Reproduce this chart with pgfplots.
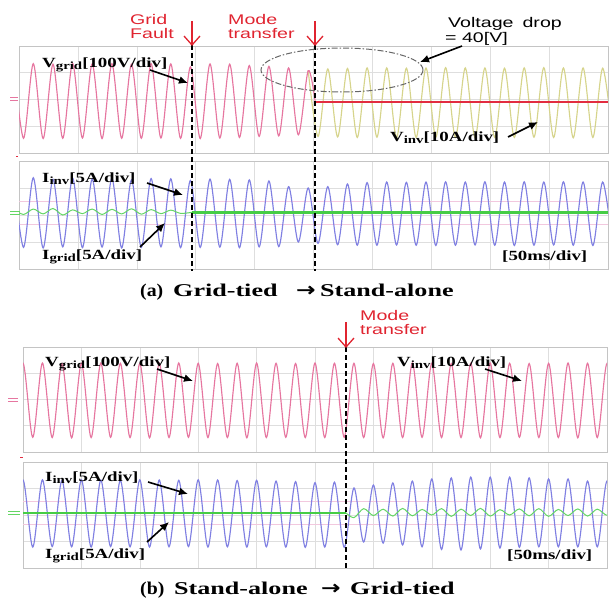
\documentclass[border=0pt]{standalone}
\usepackage{pgfplots}
\pgfplotsset{compat=1.18}
\usepackage{pgfplotstable}
\usetikzlibrary{arrows.meta}
\usepackage{fontspec}
\setmainfont{Liberation Serif}
\newfontfamily\labfont[FakeStretch=1.35]{Liberation Serif}
\newfontfamily\capfont[FakeStretch=1.45]{Liberation Serif}
\newfontfamily\capnarrow[FakeStretch=1.1]{Liberation Serif}
\newfontfamily\notefont[FakeStretch=1.4]{Liberation Sans}
\newfontfamily\symfont[FakeStretch=1.2, FakeBold=2.5]{DejaVu Sans}

\definecolor{vgridc}{RGB}{230,118,160}
\definecolor{vinvc}{RGB}{214,212,140}
\definecolor{iinvc}{RGB}{128,128,226}
\definecolor{igridc}{RGB}{100,214,100}
\definecolor{igridflat}{RGB}{70,205,70}
\definecolor{zeroc}{RGB}{226,44,64}
\definecolor{notec}{RGB}{224,36,48}
\definecolor{gridc}{RGB}{222,222,222}
\definecolor{cursorc}{RGB}{242,200,222}
\definecolor{framec}{RGB}{196,196,196}

% one oscilloscope channel: 10 x 4 divisions
\pgfplotsset{channel/.style={
  scale only axis, anchor=north west,
  xmin=0, xmax=10, ymin=-2, ymax=2,
  xtick={1,...,9}, ytick={-1,0,1},
  xticklabels={}, yticklabels={},
  tick style={draw=none},
  grid=major, major grid style={gridc, line width=0.6pt},
  axis line style={framec, line width=0.8pt},
  every axis plot/.append style={line width=1.15pt, smooth, no marks}
}}

% (a) grid-tied -> stand-alone : extremes of each half cycle (t in div)
\pgfplotstableread{
t       vg     vi     ii     ig
-0.090  1.33   nan    1.36   0.20
0.077  -1.45   nan   -1.20   0.02
0.243   1.34   nan    1.38   0.22
0.410  -1.46   nan   -1.22   0.04
0.577   1.32   nan    1.32   0.24
0.743  -1.45   nan   -1.18   0.00
0.910   1.35   nan    1.37   0.19
1.077  -1.44   nan   -1.21   0.05
1.243   1.33   nan    1.33   0.22
1.410  -1.46   nan   -1.19   0.02
1.577   1.34   nan    1.36   0.21
1.743  -1.45   nan   -1.22   0.04
1.910   1.32   nan    1.30   0.23
2.077  -1.45   nan   -1.20   0.03
2.243   1.34   nan    1.35   0.20
2.410  -1.44   nan   -1.18   0.05
2.577   1.33   nan    1.34   0.18
2.743  -1.45   nan   -1.21   0.06
2.910   1.22   nan    1.28   nan
2.940   nan    nan    nan    0.10
3.077  -1.46   nan   -1.20   nan
3.243   1.33   nan    1.33   nan
3.410  -1.44   nan   -1.19   nan
3.577   1.32   nan    1.32   nan
3.743  -1.42   nan   -1.21   nan
3.910   1.27   nan    1.30   nan
4.077  -1.38   nan   -1.18   nan
4.243   1.24   nan    1.26   nan
4.410  -1.36   nan   -1.17   nan
4.577   1.18   nan    1.05   nan
4.743  -1.32   nan   -1.00   nan
4.910   1.08   1.08   1.00   nan
5.030  -0.10   nan    nan    nan
5.077   nan   -1.38  -1.05   nan
5.243   nan    1.14   1.05   nan
5.410   nan   -1.40  -1.10   nan
5.577   nan    1.16   1.15   nan
5.743   nan   -1.42  -1.12   nan
5.910   nan    1.18   1.20   nan
6.077   nan   -1.41  -1.12   nan
6.243   nan    1.18   1.22   nan
6.410   nan   -1.43  -1.11   nan
6.577   nan    1.17   1.21   nan
6.743   nan   -1.42  -1.12   nan
6.910   nan    1.18   1.22   nan
7.077   nan   -1.41  -1.13   nan
7.243   nan    1.19   1.23   nan
7.410   nan   -1.42  -1.12   nan
7.577   nan    1.18   1.22   nan
7.743   nan   -1.43  -1.11   nan
7.910   nan    1.18   1.23   nan
8.077   nan   -1.42  -1.12   nan
8.243   nan    1.17   1.22   nan
8.410   nan   -1.42  -1.13   nan
8.577   nan    1.18   1.23   nan
8.743   nan   -1.41  -1.12   nan
8.910   nan    1.19   1.22   nan
9.077   nan   -1.42  -1.11   nan
9.243   nan    1.18   1.23   nan
9.410   nan   -1.43  -1.12   nan
9.577   nan    1.18   1.22   nan
9.743   nan   -1.42  -1.13   nan
9.910   nan    1.17   1.22   nan
10.077  nan   -1.42  -1.12   nan
}\tabA

% (b) stand-alone -> grid-tied
\pgfplotstableread{
t       vg     ii     ig
-0.167 -1.45  -1.20   nan
0.000   1.38   1.32   nan
0.167  -1.44  -1.21   nan
0.333   1.39   1.33   nan
0.500  -1.45  -1.19   nan
0.667   1.37   1.31   nan
0.833  -1.46  -1.20   nan
1.000   1.38   1.33   nan
1.167  -1.45  -1.21   nan
1.333   1.39   1.32   nan
1.500  -1.44  -1.19   nan
1.667   1.38   1.31   nan
1.833  -1.45  -1.20   nan
2.000   1.37   1.33   nan
2.167  -1.46  -1.21   nan
2.333   1.38   1.32   nan
2.500  -1.45  -1.20   nan
2.667   1.39   1.31   nan
2.833  -1.44  -1.19   nan
3.000   1.38   1.33   nan
3.167  -1.45  -1.21   nan
3.333   1.37   1.32   nan
3.500  -1.45  -1.20   nan
3.667   1.38   1.30   nan
3.833  -1.46  -1.21   nan
4.000   1.39   1.31   nan
4.167  -1.45  -1.20   nan
4.333   1.38   1.28   nan
4.500  -1.44  -1.21   nan
4.667   1.37   1.26   nan
4.833  -1.45  -1.22   nan
5.000   1.39   1.22   nan
5.167  -1.45  -1.21   nan
5.333   1.38   1.24   nan
5.500  -1.44  -1.22   nan
5.530   nan    nan    0.08
5.667   1.38   1.02  -0.10
5.833  -1.45  -1.02   0.24
6.000   1.37   1.13  -0.02
6.167  -1.46  -1.06   0.22
6.333   1.38   1.21  -0.04
6.500  -1.45  -1.13   0.25
6.667   1.39   1.28  -0.03
6.833  -1.44  -1.20   0.21
7.000   1.38   1.36   0.00
7.167  -1.45  -1.30   0.24
7.333   1.37   1.40  -0.05
7.500  -1.45  -1.32   0.22
7.667   1.38   1.43  -0.02
7.833  -1.46  -1.28   0.25
8.000   1.39   1.43  -0.04
8.167  -1.45  -1.25   0.20
8.333   1.38   1.43   0.00
8.500  -1.44  -1.22   0.23
8.667   1.37   1.40  -0.03
8.833  -1.45  -1.20   0.24
9.000   1.38   1.36  -0.05
9.167  -1.45  -1.20   0.21
9.333   1.39   1.36  -0.02
9.500  -1.46  -1.20   0.23
9.667   1.38   1.28  -0.04
9.833  -1.45  -1.20   0.22
10.000  1.37   1.28  -0.01
10.167 -1.45  -1.20   0.20
}\tabB

\newcommand\sub[1]{\raisebox{-2.5pt}{\fontsize{11}{11}\selectfont #1}}
\newcommand\lbl{\labfont\bfseries\fontsize{14}{14}\selectfont}
\newcommand\notetxt{\notefont\fontsize{14}{14}\selectfont}
\newcommand\capt{\capfont\bfseries\fontsize{18}{18}\selectfont}
\newcommand\captag{\capnarrow\bfseries\fontsize{18}{18}\selectfont}
\newcommand\caparrow{\symfont\fontsize{19}{19}\selectfont →}

\begin{document}
\begin{tikzpicture}[x=1pt,y=1pt]
\path[use as bounding box] (0,0) rectangle (615,-602);

% ---------------- (a) ----------------
\begin{axis}[channel, at={(19pt,-46pt)}, width=589pt, height=107pt]
  \addplot[vinvc] table[x=t, y=vi] {\tabA};
  \addplot[vgridc] table[x=t, y=vg] {\tabA};
  \addplot[zeroc, line width=1.4pt, sharp plot] coordinates {(5.03,-0.10) (10,-0.10)};
\end{axis}
\begin{axis}[channel, at={(19pt,-161pt)}, width=589pt, height=108pt]
  \addplot[cursorc, line width=0.7pt, sharp plot] coordinates {(0,0.5) (10,0.5)};
  \addplot[cursorc, line width=0.7pt, sharp plot] coordinates {(0,-0.35) (10,-0.35)};
  \addplot[iinvc] table[x=t, y=ii] {\tabA};
  \addplot[igridc, line width=1pt] table[x=t, y=ig] {\tabA};
  \addplot[igridflat, line width=2.4pt, sharp plot] coordinates {(2.94,0.10) (10,0.10)};
\end{axis}

% channel markers
\draw[vgridc, line width=0.9pt] (10,-97) -- (18,-97) (10,-100) -- (18,-100);
\draw[igridc, line width=0.9pt] (10,-211) -- (20,-211) (10,-214) -- (20,-214);
\draw[zeroc, line width=0.8pt] (16,-156) -- (18,-156);

% event lines
\draw[line width=2pt, dash pattern=on 5pt off 3pt] (192,-45) -- (192,-271);
\draw[line width=2pt, dash pattern=on 5pt off 3pt] (315,-45) -- (315,-271);
\draw[notec, line width=1.3pt, -{Straight Barb[length=9pt,width=16pt]}] (192,-21) -- (192,-46);
\draw[notec, line width=1.3pt, -{Straight Barb[length=9pt,width=16pt]}] (315,-21) -- (315,-46);
\node[anchor=base west, inner sep=0, text=notec] at (130,-25) {\notetxt Grid};
\node[anchor=base west, inner sep=0, text=notec] at (130,-39) {\notetxt Fault};
\node[anchor=base west, inner sep=0, text=notec] at (228,-25) {\notetxt Mode};
\node[anchor=base west, inner sep=0, text=notec] at (228,-39) {\notetxt transfer};

% voltage drop note
\draw[gray!80!black, line width=1pt, dash pattern=on 6pt off 2pt on 1.5pt off 2pt] (342,-70) ellipse [x radius=81, y radius=22];
\node[anchor=base west, inner sep=0] at (448,-28) {\notetxt Voltage\hspace{9pt}drop};
\node[anchor=base west, inner sep=0] at (445,-43) {\notetxt = 40[V]};
\draw[line width=1.6pt, -{Latex[length=9pt,width=8pt]}] (462,-46) -- (420,-62);

% trace labels
\node[anchor=base west, inner sep=0] at (42,-67) {\lbl V\sub{grid}[100V/div]};
\draw[line width=1.6pt, -{Latex[length=9pt,width=8pt]}] (150,-70) -- (188,-83);
\node[anchor=base west, inner sep=0] at (390,-141) {\lbl V\sub{inv}[10A/div]};
\draw[line width=1.6pt, -{Latex[length=9pt,width=8pt]}] (508,-137) -- (538,-122);
\node[anchor=base west, inner sep=0] at (42,-182) {\lbl I\sub{inv}[5A/div]};
\draw[line width=1.6pt, -{Latex[length=9pt,width=8pt]}] (147,-183) -- (183,-195);
\node[anchor=base west, inner sep=0] at (42,-259) {\lbl I\sub{grid}[5A/div]};
\draw[line width=1.6pt, -{Latex[length=9pt,width=8pt]}] (140,-247) -- (165,-223);
\node[anchor=base west, inner sep=0] at (502,-260) {\lbl [50ms/div]};

% caption (a)
\node[anchor=base west, inner sep=0] at (140,-296) {\captag (a)};
\node[anchor=base west, inner sep=0] at (173,-296) {\capt Grid-tied};
\node[anchor=base west, inner sep=0] at (296,-296) {\caparrow};
\node[anchor=base west, inner sep=0] at (320,-296) {\capt Stand-alone};

% ---------------- (b) ----------------
\begin{axis}[channel, at={(23pt,-347pt)}, width=584pt, height=105pt]
  \addplot[vgridc] table[x=t, y=vg] {\tabB};
\end{axis}
\begin{axis}[channel, at={(23pt,-462pt)}, width=584pt, height=106pt]
  \addplot[cursorc, line width=0.7pt, sharp plot] coordinates {(0,0.5) (10,0.5)};
  \addplot[cursorc, line width=0.7pt, sharp plot] coordinates {(0,-0.35) (10,-0.35)};
  \addplot[iinvc] table[x=t, y=ii] {\tabB};
  \addplot[igridflat, line width=2.4pt, sharp plot] coordinates {(0,0.08) (5.53,0.08)};
  \addplot[igridc, line width=1pt] table[x=t, y=ig] {\tabB};
\end{axis}

\draw[vgridc, line width=0.9pt] (8,-398) -- (18,-398) (8,-401) -- (18,-401);
\draw[igridc, line width=0.9pt] (8,-511) -- (20,-511) (8,-514) -- (20,-514);
\draw[zeroc, line width=0.8pt] (20,-457) -- (23,-457);

\draw[line width=2pt, dash pattern=on 5pt off 3pt] (346,-347) -- (346,-569);
\draw[notec, line width=1.3pt, -{Straight Barb[length=9pt,width=16pt]}] (346,-322) -- (346,-348);
\node[anchor=base west, inner sep=0, text=notec] at (360,-320) {\notetxt Mode};
\node[anchor=base west, inner sep=0, text=notec] at (360,-334) {\notetxt transfer};

\node[anchor=base west, inner sep=0] at (45,-366) {\lbl V\sub{grid}[100V/div]};
\draw[line width=1.6pt, -{Latex[length=9pt,width=8pt]}] (157,-369) -- (193,-381);
\node[anchor=base west, inner sep=0] at (397,-366) {\lbl V\sub{inv}[10A/div]};
\draw[line width=1.6pt, -{Latex[length=9pt,width=8pt]}] (485,-369) -- (522,-381);
\node[anchor=base west, inner sep=0] at (45,-481) {\lbl I\sub{inv}[5A/div]};
\draw[line width=1.6pt, -{Latex[length=9pt,width=8pt]}] (148,-482) -- (188,-494);
\node[anchor=base west, inner sep=0] at (45,-558) {\lbl I\sub{grid}[5A/div]};
\draw[line width=1.6pt, -{Latex[length=9pt,width=8pt]}] (147,-542) -- (169,-522);
\node[anchor=base west, inner sep=0] at (507,-559) {\lbl [50ms/div]};

% caption (b)
\node[anchor=base west, inner sep=0] at (140,-594) {\captag (b)};
\node[anchor=base west, inner sep=0] at (174,-594) {\capt Stand-alone};
\node[anchor=base west, inner sep=0] at (321,-594) {\caparrow};
\node[anchor=base west, inner sep=0] at (350,-594) {\capt Grid-tied};
\end{tikzpicture}
\end{document}
